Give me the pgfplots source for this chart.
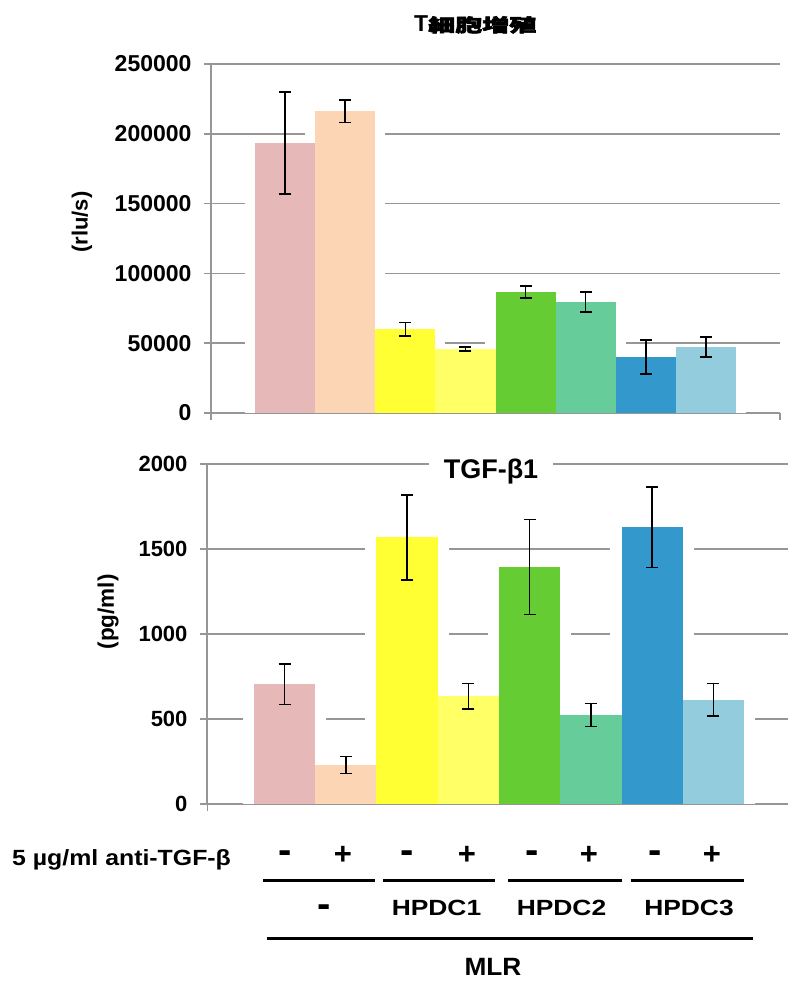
\documentclass[border=0pt]{standalone}
\usepackage{pgfplots}
\pgfplotsset{compat=1.18}
\usepackage{graphicx}
\usepackage{fontspec}
\setmainfont{Liberation Sans}
\newfontfamily\cjk[FakeBold=3]{Noto Sans CJK JP}
\definecolor{gridgray}{RGB}{150,150,150}
\definecolor{c1}{HTML}{E6B8B7}
\definecolor{c2}{HTML}{FCD5B5}
\definecolor{c3}{HTML}{FFFF33}
\definecolor{c4}{HTML}{FFFF66}
\definecolor{c5}{HTML}{66CC33}
\definecolor{c6}{HTML}{66CC99}
\definecolor{c7}{HTML}{3399CC}
\definecolor{c8}{HTML}{93CDDD}
\pgfplotsset{
  mybar/.style={ybar, bar width=1, bar shift=0pt, draw=none, fill=#1,
    error bars/.cd, y dir=both, y explicit,
    error bar style={black, line width=1.6pt},
    error mark options={rotate=90, mark size=6pt, line width=1.6pt, black}},
  halo/.style={ybar, bar width=#1, bar shift=0pt, draw=none, fill=white},
  common/.style={scale only axis,
    axis x line*=bottom, axis y line*=left,
    axis line style={gridgray, line width=1.6pt, -},
    ymajorgrids, grid style={gridgray, line width=1.6pt},
    tick style={gridgray, line width=1.6pt}, tick align=outside,
    major tick length=7pt,
    xticklabels={}, ymin=0, scaled y ticks=false,
    /pgf/number format/assume math mode=true,
    yticklabel style={xshift=-9pt, /pgf/number format/.cd, fixed, 1000 sep={}},
  }
}
\begin{document}
\begin{tikzpicture}
% ---------------- top axis ----------------
\begin{axis}[common,
  at={(211pt,-413pt)}, anchor=south west,
  width=569pt, height=349pt,
  xmin=-1.232, xmax=8.232, xtick={-1.23,8.23},
  ymax=250000, ytick={0,50000,...,250000},
  tick label style={font=\fontsize{23}{23}\selectfont\bfseries},
  ylabel={(rlu/s)},
  ylabel style={at={(axis description cs:-0.227,0.547)}, anchor=center,
    font=\fontsize{22}{22}\selectfont\bfseries},
]
\addplot[halo=1.333] coordinates {(0,193300)};
\addplot[halo=1.333] coordinates {(1,216100)};
\addplot[halo=1.333] coordinates {(2,59950)};
\addplot[halo=1.333] coordinates {(3,45850)};
\addplot[halo=1.333] coordinates {(4,86680)};
\addplot[halo=1.333] coordinates {(5,79500)};
\addplot[halo=1.333] coordinates {(6,40100)};
\addplot[halo=1.333] coordinates {(7,47280)};
\addplot[mybar=c1] coordinates {(0,193300) +- (0,36600)};
\addplot[mybar=c2] coordinates {(1,216100) +- (0,7900)};
\addplot[mybar=c3] coordinates {(2,59950) +- (0,5000)};
\addplot[mybar=c4] coordinates {(3,45850) +- (0,1450)};
\addplot[mybar=c5] coordinates {(4,86680) +- (0,4100)};
\addplot[mybar=c6] coordinates {(5,79500) +- (0,7000)};
\addplot[mybar=c7] coordinates {(6,40100) +- (0,12000)};
\addplot[mybar=c8] coordinates {(7,47280) +- (0,7000)};
\end{axis}
% ---------------- bottom axis ----------------
\begin{axis}[common,
  at={(207pt,-804pt)}, anchor=south west,
  width=584pt, height=340pt,
  xmin=-1.267, xmax=8.267, xtick={-1.26,8.26},
  ymax=2000, ytick={0,500,...,2000},
  tick label style={font=\fontsize{22}{22}\selectfont\bfseries},
  ylabel={(pg/ml)},
  ylabel style={at={(axis description cs:-0.1695,0.565)}, anchor=center,
    font=\fontsize{22.5}{22.5}\selectfont\bfseries},
]
\addplot[halo=1.36] coordinates {(0,704)};
\addplot[halo=1.36] coordinates {(1,229)};
\addplot[halo=1.36] coordinates {(2,1569)};
\addplot[halo=1.36] coordinates {(3,635)};
\addplot[halo=1.36] coordinates {(4,1394)};
\addplot[halo=1.36] coordinates {(5,524)};
\addplot[halo=1.36] coordinates {(6,1629)};
\addplot[halo=1.36] coordinates {(7,612)};
\addplot[mybar=c1] coordinates {(0,704) +- (0,118)};
\addplot[mybar=c2] coordinates {(1,229) +- (0,50)};
\addplot[mybar=c3] coordinates {(2,1569) +- (0,250)};
\addplot[mybar=c4] coordinates {(3,635) +- (0,75)};
\addplot[mybar=c5] coordinates {(4,1394) +- (0,280)};
\addplot[mybar=c6] coordinates {(5,524) +- (0,67)};
\addplot[mybar=c7] coordinates {(6,1629) +- (0,237)};
\addplot[mybar=c8] coordinates {(7,612) +- (0,96)};
\end{axis}
% ---------------- titles ----------------
\node[anchor=base west, inner sep=0pt] at (414pt,-31.7pt)
  {\fontsize{23}{23}\selectfont\bfseries T{\fontsize{18}{18}\selectfont\cjk\scalebox{1.5}[1]{細胞増殖}}};
\node[anchor=base, fill=white, inner xsep=14.5pt, inner ysep=3pt] at (491pt,-478.3pt)
  {\fontsize{27}{27}\selectfont\bfseries TGF-β1};
% ---------------- bottom annotation ----------------
\node[anchor=base west, inner sep=0pt] at (12pt,-865pt)
  {\fontsize{22}{22}\selectfont\bfseries\scalebox{1.13}[1]{5 µg/ml anti-TGF-β}};
\foreach \x in {285,407,532,655}
  \node[anchor=base, inner sep=0pt] at (\x pt,-863.8pt) {\fontsize{40}{40}\selectfont\bfseries -};
\foreach \x in {343,467,589,712}
  \node[anchor=base, inner sep=0pt] at (\x pt,-864.9pt) {\fontsize{31}{31}\selectfont\bfseries +};
\draw[line width=3.5pt] (263pt,-880.7pt) -- (375pt,-880.7pt);
\draw[line width=3.5pt] (383pt,-880.7pt) -- (495pt,-880.7pt);
\draw[line width=3.5pt] (508pt,-880.7pt) -- (621.7pt,-880.7pt);
\draw[line width=3.5pt] (630.7pt,-880.7pt) -- (744pt,-880.7pt);
\node[anchor=base, inner sep=0pt] at (324pt,-917.8pt) {\fontsize{40}{40}\selectfont\bfseries -};
\node[anchor=base, inner sep=0pt] at (436.5pt,-915.7pt) {\fontsize{22}{22}\selectfont\bfseries\scalebox{1.2}[1]{HPDC1}};
\node[anchor=base, inner sep=0pt] at (561.5pt,-915.7pt) {\fontsize{22}{22}\selectfont\bfseries\scalebox{1.2}[1]{HPDC2}};
\node[anchor=base, inner sep=0pt] at (689pt,-915.7pt) {\fontsize{22}{22}\selectfont\bfseries\scalebox{1.2}[1]{HPDC3}};
\draw[line width=3.5pt] (267pt,-938.3pt) -- (752.7pt,-938.3pt);
\node[anchor=base, inner sep=0pt, text depth=0pt] at (493pt,-975.5pt) {\fontsize{25}{25}\selectfont\bfseries\scalebox{1.05}[1]{MLR}};
\pgfresetboundingbox
\useasboundingbox (0pt,0pt) rectangle (787pt,-981pt);
\end{tikzpicture}
\end{document}
